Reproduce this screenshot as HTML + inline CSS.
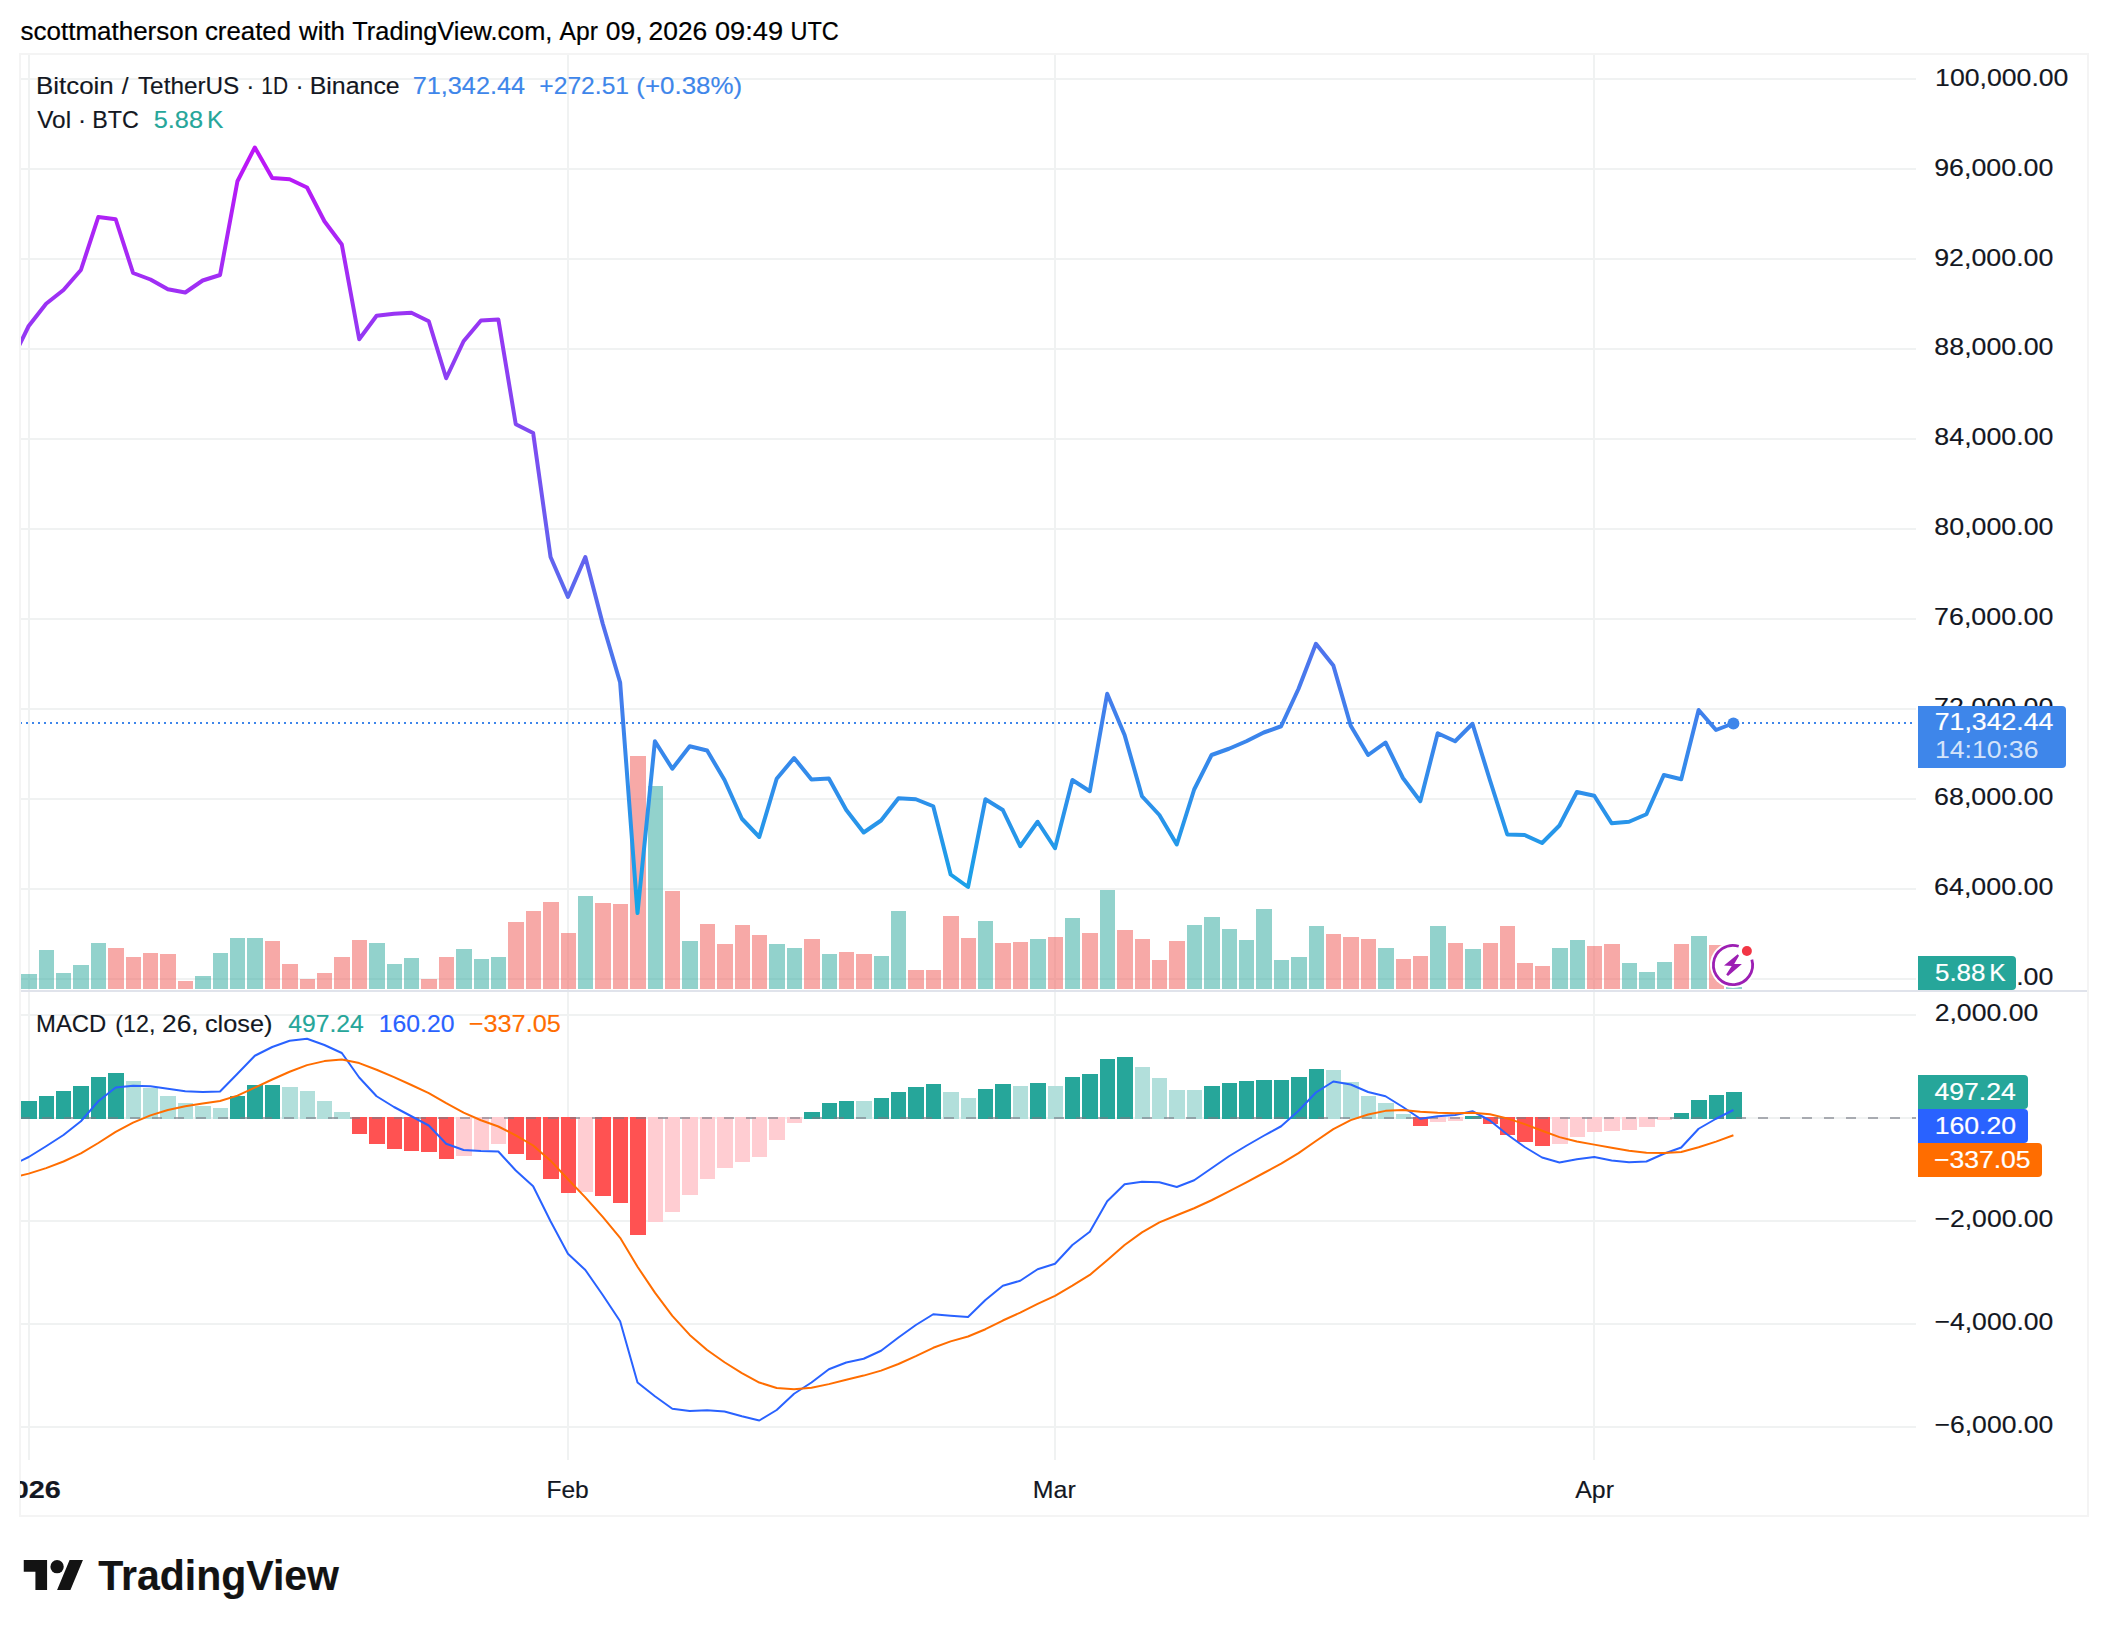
<!DOCTYPE html>
<html lang="en"><head><meta charset="utf-8"><title>BTCUSDT chart</title>
<style>html,body{margin:0;padding:0;background:#fff}body{width:2108px;height:1636px;overflow:hidden}svg{display:block}text{font-family:"Liberation Sans",Arial,sans-serif;white-space:pre}</style>
</head><body>
<svg width="2108" height="1636" viewBox="0 0 2108 1636">
<defs>
<linearGradient id="pg" gradientUnits="userSpaceOnUse" x1="0" y1="147" x2="0" y2="913"><stop offset="0" stop-color="#be14f7"/><stop offset="1" stop-color="#14a6e8"/></linearGradient>
<clipPath id="cp"><rect x="20" y="55" width="1896" height="935"/></clipPath>
<clipPath id="cm"><rect x="20" y="992" width="1896" height="468"/></clipPath>
<clipPath id="ct"><rect x="20" y="1460" width="1896" height="56"/></clipPath>
</defs>
<rect width="2108" height="1636" fill="#fff"/>
<g fill="#f0f2f2" shape-rendering="crispEdges">
<rect x="20" y="78" width="1896" height="2"/>
<rect x="20" y="168" width="1896" height="2"/>
<rect x="20" y="258" width="1896" height="2"/>
<rect x="20" y="348" width="1896" height="2"/>
<rect x="20" y="438" width="1896" height="2"/>
<rect x="20" y="528" width="1896" height="2"/>
<rect x="20" y="618" width="1896" height="2"/>
<rect x="20" y="708" width="1896" height="2"/>
<rect x="20" y="798" width="1896" height="2"/>
<rect x="20" y="888" width="1896" height="2"/>
<rect x="20" y="978" width="1896" height="2"/>
<rect x="20" y="1014" width="1896" height="2"/>
<rect x="20" y="1117" width="1896" height="2"/>
<rect x="20" y="1220" width="1896" height="2"/>
<rect x="20" y="1323" width="1896" height="2"/>
<rect x="20" y="1426" width="1896" height="2"/>
<rect x="28" y="55" width="2" height="1405"/>
<rect x="567" y="55" width="2" height="1405"/>
<rect x="1054" y="55" width="2" height="1405"/>
<rect x="1593" y="55" width="2" height="1405"/>
</g>
<g clip-path="url(#cp)" shape-rendering="crispEdges">
<rect x="21" y="974" width="16" height="15" fill="rgba(38,166,154,.5)"/>
<rect x="39" y="950" width="15" height="39" fill="rgba(38,166,154,.5)"/>
<rect x="56" y="973" width="15" height="16" fill="rgba(38,166,154,.5)"/>
<rect x="73" y="965" width="16" height="24" fill="rgba(38,166,154,.5)"/>
<rect x="91" y="943" width="15" height="46" fill="rgba(38,166,154,.5)"/>
<rect x="108" y="948" width="16" height="41" fill="rgba(239,83,80,.5)"/>
<rect x="126" y="957" width="15" height="32" fill="rgba(239,83,80,.5)"/>
<rect x="143" y="953" width="15" height="36" fill="rgba(239,83,80,.5)"/>
<rect x="160" y="954" width="16" height="35" fill="rgba(239,83,80,.5)"/>
<rect x="178" y="981" width="15" height="8" fill="rgba(239,83,80,.5)"/>
<rect x="195" y="976" width="16" height="13" fill="rgba(38,166,154,.5)"/>
<rect x="213" y="953" width="15" height="36" fill="rgba(38,166,154,.5)"/>
<rect x="230" y="938" width="15" height="51" fill="rgba(38,166,154,.5)"/>
<rect x="247" y="938" width="16" height="51" fill="rgba(38,166,154,.5)"/>
<rect x="265" y="941" width="15" height="48" fill="rgba(239,83,80,.5)"/>
<rect x="282" y="964" width="16" height="25" fill="rgba(239,83,80,.5)"/>
<rect x="300" y="979" width="15" height="10" fill="rgba(239,83,80,.5)"/>
<rect x="317" y="973" width="15" height="16" fill="rgba(239,83,80,.5)"/>
<rect x="334" y="957" width="16" height="32" fill="rgba(239,83,80,.5)"/>
<rect x="352" y="940" width="15" height="49" fill="rgba(239,83,80,.5)"/>
<rect x="369" y="943" width="16" height="46" fill="rgba(38,166,154,.5)"/>
<rect x="387" y="964" width="15" height="25" fill="rgba(38,166,154,.5)"/>
<rect x="404" y="958" width="15" height="31" fill="rgba(38,166,154,.5)"/>
<rect x="421" y="979" width="16" height="10" fill="rgba(239,83,80,.5)"/>
<rect x="439" y="957" width="15" height="32" fill="rgba(239,83,80,.5)"/>
<rect x="456" y="949" width="16" height="40" fill="rgba(38,166,154,.5)"/>
<rect x="474" y="959" width="15" height="30" fill="rgba(38,166,154,.5)"/>
<rect x="491" y="957" width="15" height="32" fill="rgba(38,166,154,.5)"/>
<rect x="508" y="922" width="16" height="67" fill="rgba(239,83,80,.5)"/>
<rect x="526" y="911" width="15" height="78" fill="rgba(239,83,80,.5)"/>
<rect x="543" y="902" width="16" height="87" fill="rgba(239,83,80,.5)"/>
<rect x="561" y="933" width="15" height="56" fill="rgba(239,83,80,.5)"/>
<rect x="578" y="896" width="15" height="93" fill="rgba(38,166,154,.5)"/>
<rect x="595" y="903" width="16" height="86" fill="rgba(239,83,80,.5)"/>
<rect x="613" y="904" width="15" height="85" fill="rgba(239,83,80,.5)"/>
<rect x="630" y="756" width="16" height="233" fill="rgba(239,83,80,.5)"/>
<rect x="648" y="786" width="15" height="203" fill="rgba(38,166,154,.5)"/>
<rect x="665" y="891" width="15" height="98" fill="rgba(239,83,80,.5)"/>
<rect x="682" y="941" width="16" height="48" fill="rgba(38,166,154,.5)"/>
<rect x="700" y="924" width="15" height="65" fill="rgba(239,83,80,.5)"/>
<rect x="717" y="944" width="16" height="45" fill="rgba(239,83,80,.5)"/>
<rect x="735" y="925" width="15" height="64" fill="rgba(239,83,80,.5)"/>
<rect x="752" y="935" width="15" height="54" fill="rgba(239,83,80,.5)"/>
<rect x="769" y="944" width="16" height="45" fill="rgba(38,166,154,.5)"/>
<rect x="787" y="948" width="15" height="41" fill="rgba(38,166,154,.5)"/>
<rect x="804" y="939" width="16" height="50" fill="rgba(239,83,80,.5)"/>
<rect x="822" y="954" width="15" height="35" fill="rgba(38,166,154,.5)"/>
<rect x="839" y="952" width="15" height="37" fill="rgba(239,83,80,.5)"/>
<rect x="856" y="954" width="16" height="35" fill="rgba(239,83,80,.5)"/>
<rect x="874" y="956" width="15" height="33" fill="rgba(38,166,154,.5)"/>
<rect x="891" y="911" width="15" height="78" fill="rgba(38,166,154,.5)"/>
<rect x="908" y="970" width="16" height="19" fill="rgba(239,83,80,.5)"/>
<rect x="926" y="970" width="15" height="19" fill="rgba(239,83,80,.5)"/>
<rect x="943" y="916" width="16" height="73" fill="rgba(239,83,80,.5)"/>
<rect x="961" y="938" width="15" height="51" fill="rgba(239,83,80,.5)"/>
<rect x="978" y="921" width="15" height="68" fill="rgba(38,166,154,.5)"/>
<rect x="995" y="943" width="16" height="46" fill="rgba(239,83,80,.5)"/>
<rect x="1013" y="942" width="15" height="47" fill="rgba(239,83,80,.5)"/>
<rect x="1030" y="939" width="16" height="50" fill="rgba(38,166,154,.5)"/>
<rect x="1048" y="937" width="15" height="52" fill="rgba(239,83,80,.5)"/>
<rect x="1065" y="918" width="15" height="71" fill="rgba(38,166,154,.5)"/>
<rect x="1082" y="933" width="16" height="56" fill="rgba(239,83,80,.5)"/>
<rect x="1100" y="890" width="15" height="99" fill="rgba(38,166,154,.5)"/>
<rect x="1117" y="930" width="16" height="59" fill="rgba(239,83,80,.5)"/>
<rect x="1135" y="939" width="15" height="50" fill="rgba(239,83,80,.5)"/>
<rect x="1152" y="960" width="15" height="29" fill="rgba(239,83,80,.5)"/>
<rect x="1169" y="941" width="16" height="48" fill="rgba(239,83,80,.5)"/>
<rect x="1187" y="925" width="15" height="64" fill="rgba(38,166,154,.5)"/>
<rect x="1204" y="917" width="16" height="72" fill="rgba(38,166,154,.5)"/>
<rect x="1222" y="929" width="15" height="60" fill="rgba(38,166,154,.5)"/>
<rect x="1239" y="940" width="15" height="49" fill="rgba(38,166,154,.5)"/>
<rect x="1256" y="909" width="16" height="80" fill="rgba(38,166,154,.5)"/>
<rect x="1274" y="960" width="15" height="29" fill="rgba(38,166,154,.5)"/>
<rect x="1291" y="957" width="16" height="32" fill="rgba(38,166,154,.5)"/>
<rect x="1309" y="926" width="15" height="63" fill="rgba(38,166,154,.5)"/>
<rect x="1326" y="934" width="15" height="55" fill="rgba(239,83,80,.5)"/>
<rect x="1343" y="937" width="16" height="52" fill="rgba(239,83,80,.5)"/>
<rect x="1361" y="939" width="15" height="50" fill="rgba(239,83,80,.5)"/>
<rect x="1378" y="948" width="16" height="41" fill="rgba(38,166,154,.5)"/>
<rect x="1396" y="959" width="15" height="30" fill="rgba(239,83,80,.5)"/>
<rect x="1413" y="956" width="15" height="33" fill="rgba(239,83,80,.5)"/>
<rect x="1430" y="926" width="16" height="63" fill="rgba(38,166,154,.5)"/>
<rect x="1448" y="943" width="15" height="46" fill="rgba(239,83,80,.5)"/>
<rect x="1465" y="949" width="16" height="40" fill="rgba(38,166,154,.5)"/>
<rect x="1483" y="943" width="15" height="46" fill="rgba(239,83,80,.5)"/>
<rect x="1500" y="926" width="15" height="63" fill="rgba(239,83,80,.5)"/>
<rect x="1517" y="963" width="16" height="26" fill="rgba(239,83,80,.5)"/>
<rect x="1535" y="966" width="15" height="23" fill="rgba(239,83,80,.5)"/>
<rect x="1552" y="948" width="16" height="41" fill="rgba(38,166,154,.5)"/>
<rect x="1570" y="940" width="15" height="49" fill="rgba(38,166,154,.5)"/>
<rect x="1587" y="946" width="15" height="43" fill="rgba(239,83,80,.5)"/>
<rect x="1604" y="944" width="16" height="45" fill="rgba(239,83,80,.5)"/>
<rect x="1622" y="963" width="15" height="26" fill="rgba(38,166,154,.5)"/>
<rect x="1639" y="972" width="16" height="17" fill="rgba(38,166,154,.5)"/>
<rect x="1657" y="962" width="15" height="27" fill="rgba(38,166,154,.5)"/>
<rect x="1674" y="944" width="15" height="45" fill="rgba(239,83,80,.5)"/>
<rect x="1691" y="936" width="16" height="53" fill="rgba(38,166,154,.5)"/>
<rect x="1709" y="945" width="15" height="44" fill="rgba(239,83,80,.5)"/>
<rect x="1726" y="987" width="16" height="2" fill="rgba(38,166,154,.5)"/>
</g>
<line x1="20" y1="723" x2="1916" y2="723" stroke="#3e86ea" stroke-width="2" stroke-dasharray="2 4" shape-rendering="crispEdges"/>
<path d="M11.30,361.30 L28.70,326.00 L46.09,303.75 L63.49,290.00 L80.89,270.00 L98.28,217.00 L115.67,219.25 L133.07,273.00 L150.47,279.50 L167.86,289.25 L185.25,292.50 L202.65,280.50 L220.04,275.00 L237.44,181.25 L254.83,147.50 L272.23,178.00 L289.62,179.25 L307.02,187.50 L324.41,221.25 L341.81,244.50 L359.20,339.25 L376.60,315.75 L394.00,313.75 L411.39,312.75 L428.78,321.25 L446.18,378.25 L463.57,341.25 L480.97,320.50 L498.36,319.50 L515.76,424.25 L533.15,433.00 L550.55,557.00 L567.95,597.00 L585.34,557.00 L602.74,623.75 L620.13,682.50 L637.52,913.00 L654.92,741.25 L672.32,768.75 L689.71,746.25 L707.11,750.50 L724.50,780.00 L741.89,818.75 L759.29,837.00 L776.69,778.75 L794.08,758.00 L811.48,779.50 L828.87,778.50 L846.26,810.00 L863.66,832.50 L881.06,820.50 L898.45,798.25 L915.85,799.25 L933.24,806.25 L950.63,874.50 L968.03,887.00 L985.43,799.25 L1002.82,810.00 L1020.22,846.25 L1037.61,821.75 L1055.01,848.25 L1072.40,780.00 L1089.80,791.25 L1107.19,693.75 L1124.59,735.00 L1141.98,796.25 L1159.38,815.00 L1176.77,844.50 L1194.16,789.50 L1211.56,755.00 L1228.95,748.75 L1246.35,741.25 L1263.75,732.50 L1281.14,726.25 L1298.54,688.75 L1315.93,643.75 L1333.33,665.50 L1350.72,725.75 L1368.12,755.00 L1385.51,742.50 L1402.90,778.00 L1420.30,801.25 L1437.69,733.25 L1455.09,741.25 L1472.48,723.75 L1489.88,780.00 L1507.28,834.50 L1524.67,835.00 L1542.07,843.00 L1559.46,825.50 L1576.86,792.00 L1594.25,795.75 L1611.64,823.25 L1629.04,821.75 L1646.43,814.25 L1663.83,775.00 L1681.22,779.25 L1698.62,710.00 L1716.02,730.00 L1733.41,723.25" fill="none" stroke="url(#pg)" stroke-width="4" stroke-linejoin="round" stroke-linecap="round" clip-path="url(#cp)"/>
<circle cx="1733.41" cy="723.4" r="6" fill="#3e86ea"/>
<g>
<circle cx="1733" cy="965" r="23" fill="#fff"/>
<path d="M1751.84,959.60 A19.6,19.6 0 1 1 1738.73,946.26" fill="none" stroke="#9c1fb3" stroke-width="2.8"/>
<circle cx="1746.9" cy="951" r="5" fill="#f23645"/>
<path d="M1737.7,954.2 L1739,955.7 L1734.2,964 L1741.9,964.1 L1728,976 L1726.2,974.5 L1731.7,965.9 L1724,965.6 Z" fill="#9c1fb3"/>
</g>
<rect x="20" y="990" width="2068" height="2" fill="#e0e3eb" shape-rendering="crispEdges"/>
<g clip-path="url(#cm)" shape-rendering="crispEdges">
<rect x="21" y="1101" width="16" height="18" fill="#26a69a"/>
<rect x="39" y="1096" width="15" height="23" fill="#26a69a"/>
<rect x="56" y="1091" width="15" height="28" fill="#26a69a"/>
<rect x="73" y="1086" width="16" height="33" fill="#26a69a"/>
<rect x="91" y="1077" width="15" height="42" fill="#26a69a"/>
<rect x="108" y="1073" width="16" height="46" fill="#26a69a"/>
<rect x="126" y="1081" width="15" height="38" fill="#b2dfdb"/>
<rect x="143" y="1088" width="15" height="31" fill="#b2dfdb"/>
<rect x="160" y="1096" width="16" height="23" fill="#b2dfdb"/>
<rect x="178" y="1103" width="15" height="16" fill="#b2dfdb"/>
<rect x="195" y="1106" width="16" height="13" fill="#b2dfdb"/>
<rect x="213" y="1108" width="15" height="11" fill="#b2dfdb"/>
<rect x="230" y="1096" width="15" height="23" fill="#26a69a"/>
<rect x="247" y="1085" width="16" height="34" fill="#26a69a"/>
<rect x="265" y="1085" width="15" height="34" fill="#26a69a"/>
<rect x="282" y="1087" width="16" height="32" fill="#b2dfdb"/>
<rect x="300" y="1091" width="15" height="28" fill="#b2dfdb"/>
<rect x="317" y="1101" width="15" height="18" fill="#b2dfdb"/>
<rect x="334" y="1112" width="16" height="7" fill="#b2dfdb"/>
<rect x="352" y="1117" width="15" height="17" fill="#ff5252"/>
<rect x="369" y="1117" width="16" height="27" fill="#ff5252"/>
<rect x="387" y="1117" width="15" height="32" fill="#ff5252"/>
<rect x="404" y="1117" width="15" height="34" fill="#ff5252"/>
<rect x="421" y="1117" width="16" height="35" fill="#ff5252"/>
<rect x="439" y="1117" width="15" height="42" fill="#ff5252"/>
<rect x="456" y="1117" width="16" height="39" fill="#ffcdd2"/>
<rect x="474" y="1117" width="15" height="33" fill="#ffcdd2"/>
<rect x="491" y="1117" width="15" height="27" fill="#ffcdd2"/>
<rect x="508" y="1117" width="16" height="37" fill="#ff5252"/>
<rect x="526" y="1117" width="15" height="43" fill="#ff5252"/>
<rect x="543" y="1117" width="16" height="62" fill="#ff5252"/>
<rect x="561" y="1117" width="15" height="76" fill="#ff5252"/>
<rect x="578" y="1117" width="15" height="75" fill="#ffcdd2"/>
<rect x="595" y="1117" width="16" height="79" fill="#ff5252"/>
<rect x="613" y="1117" width="15" height="86" fill="#ff5252"/>
<rect x="630" y="1117" width="16" height="118" fill="#ff5252"/>
<rect x="648" y="1117" width="15" height="105" fill="#ffcdd2"/>
<rect x="665" y="1117" width="15" height="95" fill="#ffcdd2"/>
<rect x="682" y="1117" width="16" height="78" fill="#ffcdd2"/>
<rect x="700" y="1117" width="15" height="62" fill="#ffcdd2"/>
<rect x="717" y="1117" width="16" height="51" fill="#ffcdd2"/>
<rect x="735" y="1117" width="15" height="45" fill="#ffcdd2"/>
<rect x="752" y="1117" width="15" height="40" fill="#ffcdd2"/>
<rect x="769" y="1117" width="16" height="23" fill="#ffcdd2"/>
<rect x="787" y="1117" width="15" height="6" fill="#ffcdd2"/>
<rect x="804" y="1112" width="16" height="7" fill="#26a69a"/>
<rect x="822" y="1103" width="15" height="16" fill="#26a69a"/>
<rect x="839" y="1101" width="15" height="18" fill="#26a69a"/>
<rect x="856" y="1101" width="16" height="18" fill="#b2dfdb"/>
<rect x="874" y="1098" width="15" height="21" fill="#26a69a"/>
<rect x="891" y="1092" width="15" height="27" fill="#26a69a"/>
<rect x="908" y="1087" width="16" height="32" fill="#26a69a"/>
<rect x="926" y="1084" width="15" height="35" fill="#26a69a"/>
<rect x="943" y="1092" width="16" height="27" fill="#b2dfdb"/>
<rect x="961" y="1098" width="15" height="21" fill="#b2dfdb"/>
<rect x="978" y="1089" width="15" height="30" fill="#26a69a"/>
<rect x="995" y="1084" width="16" height="35" fill="#26a69a"/>
<rect x="1013" y="1086" width="15" height="33" fill="#b2dfdb"/>
<rect x="1030" y="1083" width="16" height="36" fill="#26a69a"/>
<rect x="1048" y="1086" width="15" height="33" fill="#b2dfdb"/>
<rect x="1065" y="1077" width="15" height="42" fill="#26a69a"/>
<rect x="1082" y="1074" width="16" height="45" fill="#26a69a"/>
<rect x="1100" y="1059" width="15" height="60" fill="#26a69a"/>
<rect x="1117" y="1057" width="16" height="62" fill="#26a69a"/>
<rect x="1135" y="1067" width="15" height="52" fill="#b2dfdb"/>
<rect x="1152" y="1078" width="15" height="41" fill="#b2dfdb"/>
<rect x="1169" y="1090" width="16" height="29" fill="#b2dfdb"/>
<rect x="1187" y="1090" width="15" height="29" fill="#b2dfdb"/>
<rect x="1204" y="1086" width="16" height="33" fill="#26a69a"/>
<rect x="1222" y="1083" width="15" height="36" fill="#26a69a"/>
<rect x="1239" y="1081" width="15" height="38" fill="#26a69a"/>
<rect x="1256" y="1080" width="16" height="39" fill="#26a69a"/>
<rect x="1274" y="1080" width="15" height="39" fill="#26a69a"/>
<rect x="1291" y="1077" width="16" height="42" fill="#26a69a"/>
<rect x="1309" y="1069" width="15" height="50" fill="#26a69a"/>
<rect x="1326" y="1070" width="15" height="49" fill="#b2dfdb"/>
<rect x="1343" y="1082" width="16" height="37" fill="#b2dfdb"/>
<rect x="1361" y="1096" width="15" height="23" fill="#b2dfdb"/>
<rect x="1378" y="1103" width="16" height="16" fill="#b2dfdb"/>
<rect x="1396" y="1114" width="15" height="5" fill="#b2dfdb"/>
<rect x="1413" y="1117" width="15" height="9" fill="#ff5252"/>
<rect x="1430" y="1117" width="16" height="5" fill="#ffcdd2"/>
<rect x="1448" y="1117" width="15" height="4" fill="#ffcdd2"/>
<rect x="1465" y="1116" width="16" height="3" fill="#26a69a"/>
<rect x="1483" y="1117" width="15" height="7" fill="#ff5252"/>
<rect x="1500" y="1117" width="15" height="18" fill="#ff5252"/>
<rect x="1517" y="1117" width="16" height="25" fill="#ff5252"/>
<rect x="1535" y="1117" width="15" height="29" fill="#ff5252"/>
<rect x="1552" y="1117" width="16" height="27" fill="#ffcdd2"/>
<rect x="1570" y="1117" width="15" height="20" fill="#ffcdd2"/>
<rect x="1587" y="1117" width="15" height="15" fill="#ffcdd2"/>
<rect x="1604" y="1117" width="16" height="14" fill="#ffcdd2"/>
<rect x="1622" y="1117" width="15" height="13" fill="#ffcdd2"/>
<rect x="1639" y="1117" width="16" height="10" fill="#ffcdd2"/>
<rect x="1657" y="1117" width="15" height="3" fill="#ffcdd2"/>
<rect x="1674" y="1113" width="15" height="6" fill="#26a69a"/>
<rect x="1691" y="1100" width="16" height="19" fill="#26a69a"/>
<rect x="1709" y="1095" width="15" height="24" fill="#26a69a"/>
<rect x="1726" y="1092" width="16" height="27" fill="#26a69a"/>
</g>
<line x1="20.25" y1="1118" x2="1916" y2="1118" stroke="#787b86" stroke-opacity=".6" stroke-width="2" stroke-dasharray="10 12" shape-rendering="crispEdges"/>
<g clip-path="url(#cm)" fill="none" stroke-width="2" stroke-linejoin="round">
<path d="M11.30,1165.50 L28.70,1157.00 L46.09,1146.25 L63.49,1135.00 L80.89,1121.25 L98.28,1101.25 L115.67,1087.50 L133.07,1085.75 L150.47,1086.25 L167.86,1088.75 L185.25,1091.25 L202.65,1092.00 L220.04,1091.50 L237.44,1073.75 L254.83,1055.75 L272.23,1047.00 L289.62,1040.75 L307.02,1038.75 L324.41,1045.00 L341.81,1053.00 L359.20,1077.50 L376.60,1096.25 L394.00,1107.00 L411.39,1116.25 L428.78,1125.50 L446.18,1143.75 L463.57,1150.00 L480.97,1151.00 L498.36,1151.50 L515.76,1170.50 L533.15,1186.25 L550.55,1221.25 L567.95,1253.75 L585.34,1270.00 L602.74,1295.00 L620.13,1321.25 L637.52,1382.50 L654.92,1396.25 L672.32,1408.75 L689.71,1411.00 L707.11,1410.25 L724.50,1411.50 L741.89,1416.25 L759.29,1420.50 L776.69,1410.00 L794.08,1393.75 L811.48,1382.50 L828.87,1369.25 L846.26,1362.50 L863.66,1358.75 L881.06,1350.75 L898.45,1337.50 L915.85,1325.00 L933.24,1314.25 L950.63,1315.75 L968.03,1317.00 L985.43,1300.00 L1002.82,1285.75 L1020.22,1280.75 L1037.61,1269.25 L1055.01,1263.75 L1072.40,1245.00 L1089.80,1231.75 L1107.19,1201.25 L1124.59,1184.25 L1141.98,1181.75 L1159.38,1182.25 L1176.77,1187.00 L1194.16,1180.25 L1211.56,1168.25 L1228.95,1156.25 L1246.35,1145.75 L1263.75,1135.75 L1281.14,1126.25 L1298.54,1110.75 L1315.93,1092.50 L1333.33,1081.50 L1350.72,1084.50 L1368.12,1092.00 L1385.51,1096.25 L1402.90,1107.00 L1420.30,1118.75 L1437.69,1116.25 L1455.09,1115.00 L1472.48,1111.25 L1489.88,1120.50 L1507.28,1134.50 L1524.67,1147.00 L1542.07,1157.50 L1559.46,1162.50 L1576.86,1159.25 L1594.25,1157.00 L1611.64,1160.50 L1629.04,1162.25 L1646.43,1161.50 L1663.83,1153.75 L1681.22,1147.50 L1698.62,1128.75 L1716.02,1118.75 L1733.41,1110.00" stroke="#2962ff"/>
<path d="M11.30,1177.75 L28.70,1173.60 L46.09,1168.13 L63.49,1161.50 L80.89,1153.45 L98.28,1143.01 L115.67,1131.91 L133.07,1122.68 L150.47,1115.39 L167.86,1110.06 L185.25,1106.30 L202.65,1103.44 L220.04,1101.05 L237.44,1095.59 L254.83,1087.62 L272.23,1079.50 L289.62,1071.75 L307.02,1065.15 L324.41,1061.12 L341.81,1059.50 L359.20,1063.10 L376.60,1069.73 L394.00,1077.18 L411.39,1085.00 L428.78,1093.10 L446.18,1103.23 L463.57,1112.58 L480.97,1120.27 L498.36,1126.51 L515.76,1135.31 L533.15,1145.50 L550.55,1160.65 L567.95,1179.27 L585.34,1197.41 L602.74,1216.93 L620.13,1237.80 L637.52,1266.74 L654.92,1292.64 L672.32,1315.86 L689.71,1334.89 L707.11,1349.96 L724.50,1362.27 L741.89,1373.07 L759.29,1382.55 L776.69,1388.04 L794.08,1389.18 L811.48,1387.85 L828.87,1384.13 L846.26,1379.80 L863.66,1375.59 L881.06,1370.62 L898.45,1364.00 L915.85,1356.20 L933.24,1347.81 L950.63,1341.40 L968.03,1336.52 L985.43,1329.21 L1002.82,1320.52 L1020.22,1312.57 L1037.61,1303.90 L1055.01,1295.87 L1072.40,1285.70 L1089.80,1274.91 L1107.19,1260.18 L1124.59,1244.99 L1141.98,1232.34 L1159.38,1222.32 L1176.77,1215.26 L1194.16,1208.26 L1211.56,1200.26 L1228.95,1191.45 L1246.35,1182.31 L1263.75,1173.00 L1281.14,1163.65 L1298.54,1153.07 L1315.93,1140.96 L1333.33,1129.07 L1350.72,1120.15 L1368.12,1114.52 L1385.51,1110.87 L1402.90,1110.09 L1420.30,1111.83 L1437.69,1112.71 L1455.09,1113.17 L1472.48,1112.78 L1489.88,1114.33 L1507.28,1118.36 L1524.67,1124.09 L1542.07,1130.77 L1559.46,1137.12 L1576.86,1141.54 L1594.25,1144.64 L1611.64,1147.81 L1629.04,1150.70 L1646.43,1152.86 L1663.83,1153.04 L1681.22,1151.93 L1698.62,1147.29 L1716.02,1141.58 L1733.41,1135.27" stroke="#ff6d00"/>
</g>
<g fill="#f4f4f4" shape-rendering="crispEdges"><rect x="19" y="53" width="2070" height="2"/><rect x="19" y="1515" width="2070" height="2"/><rect x="19" y="53" width="2" height="1464"/><rect x="2087" y="53" width="2" height="1464"/></g>
<text x="1935.11" y="86.00" font-size="24.5" fill="#131722" stroke="#131722" stroke-width="0.15" textLength="133.31" lengthAdjust="spacingAndGlyphs">100,000.00</text>
<text x="1934.22" y="176.10" font-size="24.5" fill="#131722" stroke="#131722" stroke-width="0.15" textLength="119.21" lengthAdjust="spacingAndGlyphs">96,000.00</text>
<text x="1934.22" y="265.70" font-size="24.5" fill="#131722" stroke="#131722" stroke-width="0.15" textLength="119.21" lengthAdjust="spacingAndGlyphs">92,000.00</text>
<text x="1934.36" y="355.40" font-size="24.5" fill="#131722" stroke="#131722" stroke-width="0.15" textLength="119.07" lengthAdjust="spacingAndGlyphs">88,000.00</text>
<text x="1934.36" y="445.40" font-size="24.5" fill="#131722" stroke="#131722" stroke-width="0.15" textLength="119.07" lengthAdjust="spacingAndGlyphs">84,000.00</text>
<text x="1934.36" y="535.40" font-size="24.5" fill="#131722" stroke="#131722" stroke-width="0.15" textLength="119.07" lengthAdjust="spacingAndGlyphs">80,000.00</text>
<text x="1934.08" y="625.40" font-size="24.5" fill="#131722" stroke="#131722" stroke-width="0.15" textLength="119.35" lengthAdjust="spacingAndGlyphs">76,000.00</text>
<text x="1934.08" y="715.40" font-size="24.5" fill="#131722" stroke="#131722" stroke-width="0.15" textLength="119.35" lengthAdjust="spacingAndGlyphs">72,000.00</text>
<text x="1934.08" y="805.00" font-size="24.5" fill="#131722" stroke="#131722" stroke-width="0.15" textLength="119.35" lengthAdjust="spacingAndGlyphs">68,000.00</text>
<text x="1934.08" y="895.40" font-size="24.5" fill="#131722" stroke="#131722" stroke-width="0.15" textLength="119.35" lengthAdjust="spacingAndGlyphs">64,000.00</text>
<text x="1934.08" y="985.40" font-size="24.5" fill="#131722" stroke="#131722" stroke-width="0.15" textLength="119.35" lengthAdjust="spacingAndGlyphs">60,000.00</text>
<text x="1934.69" y="1021.20" font-size="24.5" fill="#131722" stroke="#131722" stroke-width="0.15" textLength="103.53" lengthAdjust="spacingAndGlyphs">2,000.00</text>
<text x="1934.50" y="1226.70" font-size="24.5" fill="#131722" stroke="#131722" stroke-width="0.15" textLength="118.79" lengthAdjust="spacingAndGlyphs">−2,000.00</text>
<text x="1934.50" y="1329.80" font-size="24.5" fill="#131722" stroke="#131722" stroke-width="0.15" textLength="118.79" lengthAdjust="spacingAndGlyphs">−4,000.00</text>
<text x="1934.50" y="1432.90" font-size="24.5" fill="#131722" stroke="#131722" stroke-width="0.15" textLength="118.79" lengthAdjust="spacingAndGlyphs">−6,000.00</text>
<path d="M1918,706 H2062 A4,4 0 0 1 2066,710 V764 A4,4 0 0 1 2062,768 H1918 Z" fill="#3e86ea"/>
<text x="1934.79" y="729.90" font-size="24.5" fill="#fff" stroke="#fff" stroke-width="0.2" textLength="118.66" lengthAdjust="spacingAndGlyphs">71,342.44</text>
<text x="1934.91" y="757.60" font-size="24.5" fill="#fff" textLength="103.54" lengthAdjust="spacingAndGlyphs" fill-opacity=".8">14:10:36</text>
<path d="M1918,956 H2012 A4,4 0 0 1 2016,960 V986 A4,4 0 0 1 2012,990 H1918 Z" fill="#26a69a"/>
<text y="981.00" font-size="24.5" fill="#fff" stroke="#fff" stroke-width="0.2"><tspan x="1934.99" textLength="50.48" lengthAdjust="spacingAndGlyphs">5.88</tspan> <tspan x="1989.25" textLength="16.34" lengthAdjust="spacingAndGlyphs">K</tspan></text>
<path d="M1918,1075 H2024 A4,4 0 0 1 2028,1079 V1105 A4,4 0 0 1 2024,1109 H1918 Z" fill="#26a69a"/>
<text x="1934.51" y="1100.00" font-size="24.5" fill="#fff" stroke="#fff" stroke-width="0.2" textLength="81.32" lengthAdjust="spacingAndGlyphs">497.24</text>
<path d="M1918,1109 H2024 A4,4 0 0 1 2028,1113 V1139 A4,4 0 0 1 2024,1143 H1918 Z" fill="#2962ff"/>
<text x="1934.71" y="1134.00" font-size="24.5" fill="#fff" stroke="#fff" stroke-width="0.2" textLength="81.38" lengthAdjust="spacingAndGlyphs">160.20</text>
<path d="M1918,1143 H2038 A4,4 0 0 1 2042,1147 V1173 A4,4 0 0 1 2038,1177 H1918 Z" fill="#ff6d00"/>
<text x="1933.90" y="1168.00" font-size="24.5" fill="#fff" stroke="#fff" stroke-width="0.2" textLength="96.73" lengthAdjust="spacingAndGlyphs">−337.05</text>
<text y="39.70" font-size="25" fill="#000" stroke="#000" stroke-width="0.2"><tspan x="20.57" textLength="177.61" lengthAdjust="spacingAndGlyphs">scottmatherson</tspan> <tspan x="204.92" textLength="86.13" lengthAdjust="spacingAndGlyphs">created</tspan> <tspan x="299.05" textLength="45.86" lengthAdjust="spacingAndGlyphs">with</tspan> <tspan x="352.34" textLength="200.03" lengthAdjust="spacingAndGlyphs">TradingView.com,</tspan> <tspan x="559.50" textLength="38.35" lengthAdjust="spacingAndGlyphs">Apr</tspan> <tspan x="605.79" textLength="36.74" lengthAdjust="spacingAndGlyphs">09,</tspan> <tspan x="648.53" textLength="58.77" lengthAdjust="spacingAndGlyphs">2026</tspan> <tspan x="714.96" textLength="68.08" lengthAdjust="spacingAndGlyphs">09:49</tspan> <tspan x="790.38" textLength="48.40" lengthAdjust="spacingAndGlyphs">UTC</tspan></text>
<text y="93.75" font-size="24.5" fill="#131722" stroke="#131722" stroke-width="0.15"><tspan x="35.93" textLength="77.88" lengthAdjust="spacingAndGlyphs">Bitcoin</tspan> <tspan x="121.82" textLength="6.81" lengthAdjust="spacingAndGlyphs">/</tspan> <tspan x="137.95" textLength="101.41" lengthAdjust="spacingAndGlyphs">TetherUS</tspan> <tspan x="246.29" textLength="8.16" lengthAdjust="spacingAndGlyphs">·</tspan> <tspan x="261.35" textLength="26.72" lengthAdjust="spacingAndGlyphs">1D</tspan> <tspan x="295.39" textLength="8.16" lengthAdjust="spacingAndGlyphs">·</tspan> <tspan x="309.72" textLength="90.01" lengthAdjust="spacingAndGlyphs">Binance</tspan> <tspan x="412.76" textLength="112.25" lengthAdjust="spacingAndGlyphs" fill="#3e86ea" stroke="#3e86ea">71,342.44</tspan> <tspan x="539.32" textLength="89.75" lengthAdjust="spacingAndGlyphs" fill="#3e86ea" stroke="#3e86ea">+272.51</tspan> <tspan x="636.26" textLength="105.97" lengthAdjust="spacingAndGlyphs" fill="#3e86ea" stroke="#3e86ea">(+0.38%)</tspan></text>
<text y="127.80" font-size="24.5" fill="#131722" stroke="#131722" stroke-width="0.15"><tspan x="37.23" textLength="33.87" lengthAdjust="spacingAndGlyphs">Vol</tspan> <tspan x="77.89" textLength="8.16" lengthAdjust="spacingAndGlyphs">·</tspan> <tspan x="92.35" textLength="46.55" lengthAdjust="spacingAndGlyphs">BTC</tspan> <tspan x="153.72" textLength="49.33" lengthAdjust="spacingAndGlyphs" fill="#26a69a" stroke="#26a69a">5.88</tspan> <tspan x="207.00" textLength="16.34" lengthAdjust="spacingAndGlyphs" fill="#26a69a" stroke="#26a69a">K</tspan></text>
<text y="1031.50" font-size="24.5" fill="#131722" stroke="#131722" stroke-width="0.15"><tspan x="36.11" textLength="70.15" lengthAdjust="spacingAndGlyphs">MACD</tspan> <tspan x="115.33" textLength="40.02" lengthAdjust="spacingAndGlyphs">(12,</tspan> <tspan x="162.01" textLength="36.59" lengthAdjust="spacingAndGlyphs">26,</tspan> <tspan x="204.92" textLength="67.56" lengthAdjust="spacingAndGlyphs">close)</tspan> <tspan x="288.25" textLength="75.62" lengthAdjust="spacingAndGlyphs" fill="#26a69a" stroke="#26a69a">497.24</tspan> <tspan x="378.76" textLength="75.66" lengthAdjust="spacingAndGlyphs" fill="#2962ff" stroke="#2962ff">160.20</tspan> <tspan x="468.76" textLength="92.01" lengthAdjust="spacingAndGlyphs" fill="#ff6d00" stroke="#ff6d00">−337.05</tspan></text>
<g clip-path="url(#ct)">
<text x="-3.30" y="1497.50" font-size="24" fill="#131722" font-weight="700" stroke="#131722" stroke-width="0.15" textLength="64.12" lengthAdjust="spacingAndGlyphs">2026</text>
</g>
<text x="546.40" y="1497.50" font-size="24" fill="#131722" stroke="#131722" stroke-width="0.15" textLength="42.35" lengthAdjust="spacingAndGlyphs">Feb</text>
<text x="1032.77" y="1497.50" font-size="24" fill="#131722" stroke="#131722" stroke-width="0.15" textLength="42.92" lengthAdjust="spacingAndGlyphs">Mar</text>
<text x="1575.25" y="1497.50" font-size="24" fill="#131722" stroke="#131722" stroke-width="0.15" textLength="38.66" lengthAdjust="spacingAndGlyphs">Apr</text>
<g fill="#131313" transform="translate(23.75,1553.33) scale(1.6667)"><path d="M14 22H7V11H0V4h14v18z"/><circle cx="20" cy="8" r="4"/><path d="M28 22h-8l7.5-18h8L28 22z"/></g>
<text x="98.26" y="1590.00" font-size="42" fill="#131313" font-weight="700" stroke="#131313" stroke-width="0.15" textLength="240.78" lengthAdjust="spacingAndGlyphs">TradingView</text>
</svg></body></html>
